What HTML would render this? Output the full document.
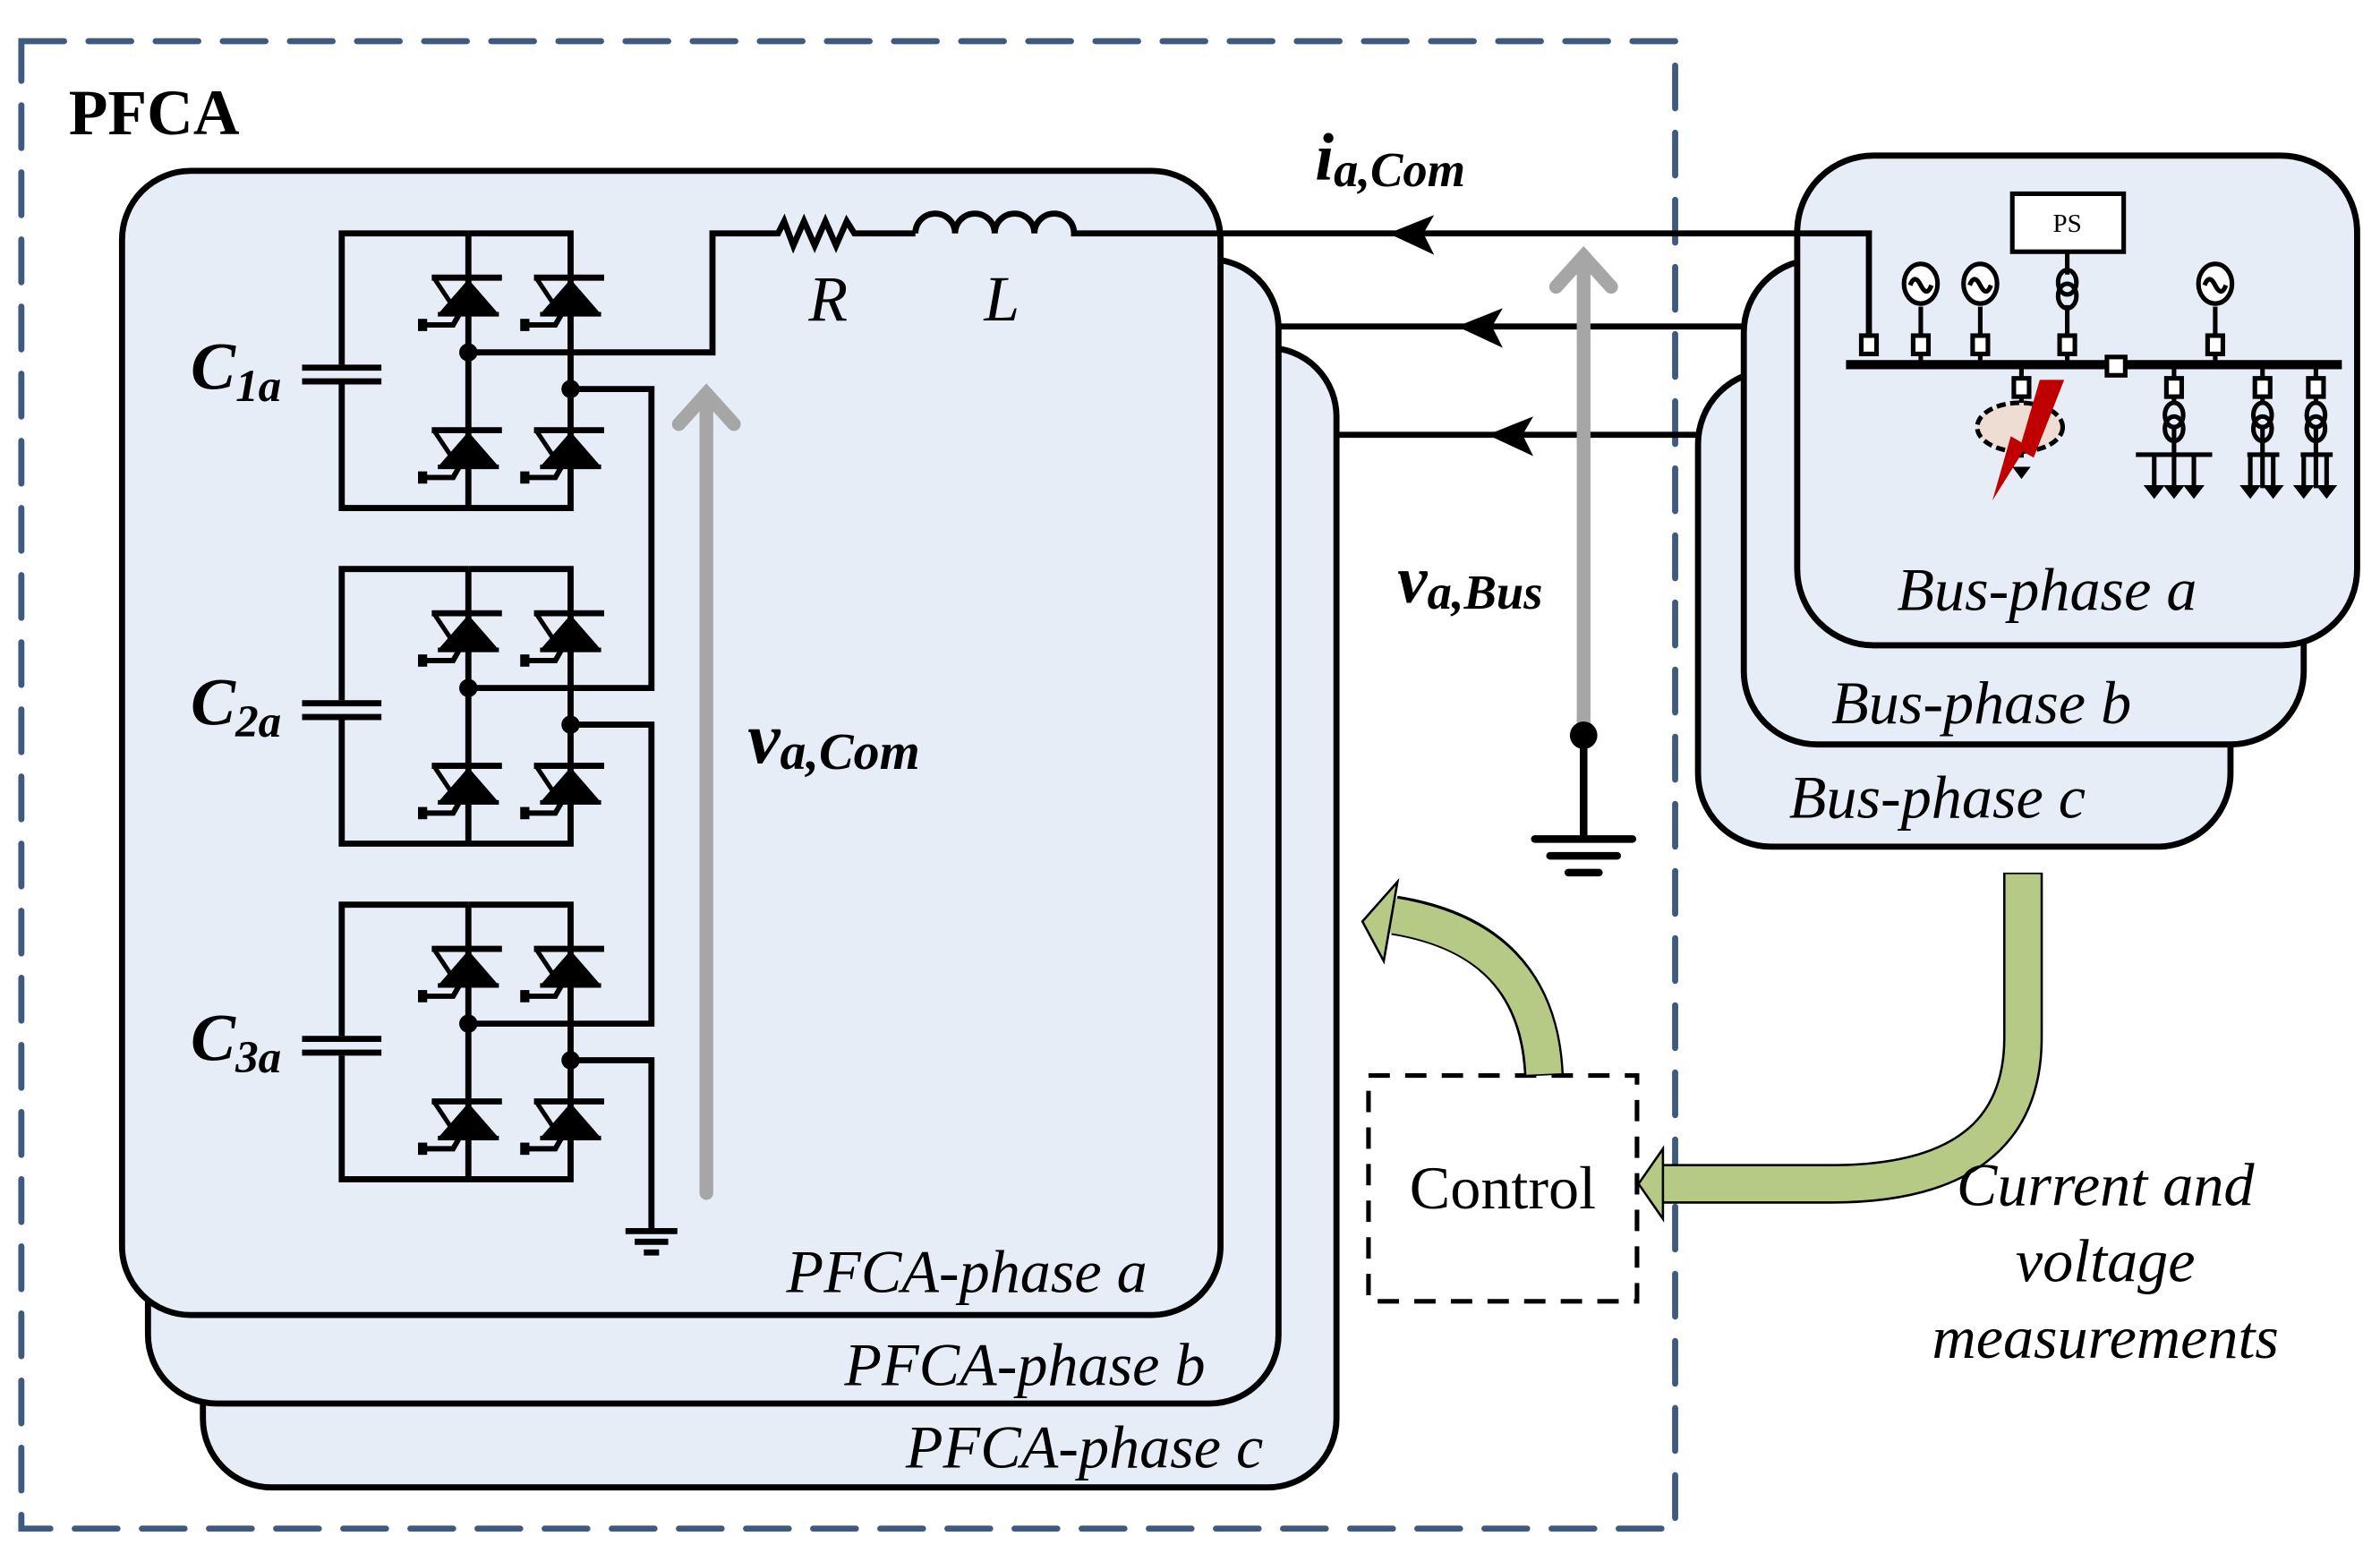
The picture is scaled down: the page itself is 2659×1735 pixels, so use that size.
<!DOCTYPE html>
<html><head><style>html,body{margin:0;padding:0;background:#fff}svg{display:block}text{font-family:"Liberation Serif",serif}</style></head>
<body>
<svg width="2659" height="1735" viewBox="0 0 1560 1018" preserveAspectRatio="none" xmlns="http://www.w3.org/2000/svg">
<defs>
<g id="thy">
 <line x1="-24" y1="0" x2="22" y2="0" stroke="#000" stroke-width="4"/>
 <polygon points="0,1 -20,24 20,24" fill="#000"/>
 <polyline points="-22,1 -8,22" fill="none" stroke="#000" stroke-width="3"/>
 <polyline points="-6,24 -10,31 -28,31" fill="none" stroke="#000" stroke-width="3.5"/>
 <rect x="-33" y="27" width="6" height="8" fill="#000"/>
 <line x1="-20" y1="24" x2="20" y2="24" stroke="#000" stroke-width="3"/>
</g>
<g id="bridge">
 <polyline points="307,153 224,153 224,239" fill="none" stroke="#000" stroke-width="4"/>
 <polyline points="224,252 224,333 374,333 374,153 307,153" fill="none" stroke="#000" stroke-width="4"/>
 <line x1="307" y1="153" x2="307" y2="333" stroke="#000" stroke-width="4"/>
 <line x1="198" y1="241" x2="250" y2="241" stroke="#000" stroke-width="4"/>
 <line x1="198" y1="250" x2="250" y2="250" stroke="#000" stroke-width="4"/>
 <use href="#thy" transform="translate(307,182)"/>
 <use href="#thy" transform="translate(374,182)"/>
 <use href="#thy" transform="translate(307,282)"/>
 <use href="#thy" transform="translate(374,282)"/>
 <circle cx="307" cy="231" r="6" fill="#000"/>
 <circle cx="374" cy="255" r="6" fill="#000"/>
</g>
</defs>
<rect width="1560" height="1018" fill="#fff"/>
<rect x="14" y="27" width="1084" height="975" fill="none" stroke="#3f5a7e" stroke-width="4" stroke-dasharray="28 16" stroke-linecap="round"/>
<text x="45" y="88" font-size="42" font-weight="bold">PFCA</text>
<rect x="133" y="228" width="743" height="747" rx="45" fill="#e6edf7" stroke="#000" stroke-width="4"/>
<rect x="97" y="170" width="741" height="750" rx="45" fill="#e6edf7" stroke="#000" stroke-width="4"/>
<rect x="80" y="112" width="720" height="750" rx="45" fill="#e6edf7" stroke="#000" stroke-width="4"/>
<text x="828" y="962" font-size="40" font-style="italic" text-anchor="end">PFCA-phase c</text>
<text x="790" y="908" font-size="40" font-style="italic" text-anchor="end">PFCA-phase b</text>
<text x="752" y="847" font-size="40" font-style="italic" text-anchor="end">PFCA-phase a</text>
<rect x="1113" y="243" width="349" height="312" rx="48" fill="#e6edf7" stroke="#000" stroke-width="4"/>
<rect x="1143" y="170" width="367" height="318" rx="48" fill="#e6edf7" stroke="#000" stroke-width="4"/>
<rect x="1178" y="102" width="367" height="321" rx="50" fill="#e6edf7" stroke="#000" stroke-width="4"/>
<text x="1367" y="536" font-size="40" font-style="italic" text-anchor="end">Bus-phase c</text>
<text x="1397" y="474" font-size="40" font-style="italic" text-anchor="end">Bus-phase b</text>
<text x="1440" y="400" font-size="40" font-style="italic" text-anchor="end">Bus-phase a</text>
<use href="#bridge"/>
<use href="#bridge" transform="translate(0,220)"/>
<use href="#bridge" transform="translate(0,440)"/>
<text x="125" y="255" font-size="44" font-style="italic" font-weight="bold">C<tspan font-size="30" dy="8">1a</tspan></text>
<text x="125" y="475" font-size="44" font-style="italic" font-weight="bold">C<tspan font-size="30" dy="8">2a</tspan></text>
<text x="125" y="695" font-size="44" font-style="italic" font-weight="bold">C<tspan font-size="30" dy="8">3a</tspan></text>
<g fill="none" stroke="#000" stroke-width="4">
 <polyline points="374,255 427,255 427,451 307,451"/>
 <polyline points="374,475 427,475 427,671 307,671"/>
 <polyline points="374,695 427,695 427,805"/>
 <line x1="410" y1="807" x2="444" y2="807"/><line x1="416" y1="814" x2="438" y2="814"/><line x1="422" y1="821" x2="432" y2="821"/>
 <polyline points="307,231 467,231 467,153 510,153 514,145 520,161 527,145 534,161 541,145 548,161 555,145 560,153 600,153"/>
 <path d="M600,153 a13,13 0 0 1 26,0 a13,13 0 0 1 26,0 a13,13 0 0 1 26,0 a13,13 0 0 1 26,0 L1225,153 L1225,225"/>
 <line x1="838" y1="214" x2="1143" y2="214"/>
 <line x1="876" y1="285" x2="1113" y2="285"/>
</g>
<text x="530" y="210" font-size="42" font-style="italic">R</text>
<text x="645" y="210" font-size="42" font-style="italic">L</text>
<polygon points="910,153 940,141 933,153 940,167" fill="#000"/>
<polygon points="955,214 985,202 978,214 985,228" fill="#000"/>
<polygon points="975,285 1005,273 998,285 1005,299" fill="#000"/>
<g stroke="#a6a6a6" stroke-width="9" fill="none" stroke-linecap="round">
 <line x1="463" y1="782" x2="463" y2="260"/><polyline points="445,278 463,258 481,278"/>
 <line x1="1038" y1="478" x2="1038" y2="170"/><polyline points="1020,188 1038,168 1056,188"/>
</g>
<text x="862" y="118" font-size="44" font-style="italic" font-weight="bold">i<tspan font-size="32" dy="4">a,Com</tspan></text>
<text x="916" y="395" font-size="44" font-style="italic" font-weight="bold">v<tspan font-size="32" dy="4">a,Bus</tspan></text>
<text x="490" y="500" font-size="48" font-style="italic" font-weight="bold">v<tspan font-size="34" dy="4">a,Com</tspan></text>
<circle cx="1038" cy="482" r="9" fill="#000"/>
<g stroke="#000" stroke-width="5" stroke-linecap="round">
 <line x1="1038" y1="482" x2="1038" y2="548"/>
 <line x1="1006" y1="550" x2="1070" y2="550"/><line x1="1016" y1="561" x2="1060" y2="561"/><line x1="1028" y1="572" x2="1048" y2="572"/>
</g>
<g stroke="#000" stroke-width="3" fill="none">
 <line x1="1210" y1="239" x2="1535" y2="239" stroke-width="6"/>
 <rect x="1319" y="127" width="73" height="38" fill="#fff"/>
 <line x1="1355" y1="165" x2="1355" y2="180"/>
 <line x1="1259" y1="201" x2="1259" y2="239"/><line x1="1298" y1="201" x2="1298" y2="239"/><line x1="1355" y1="200" x2="1355" y2="239"/><line x1="1452" y1="201" x2="1452" y2="239"/>
 <ellipse cx="1259" cy="186" rx="11" ry="13" fill="#fff"/><ellipse cx="1298" cy="186" rx="11" ry="13" fill="#fff"/><ellipse cx="1452" cy="186" rx="11" ry="13" fill="#fff"/>
 <path d="M1252,187 q3,-8 7,0 t7,0"/><path d="M1291,187 q3,-8 7,0 t7,0"/><path d="M1445,187 q3,-8 7,0 t7,0"/>
 <ellipse cx="1355" cy="185" rx="6" ry="8"/><ellipse cx="1355" cy="194" rx="6" ry="8"/>
 <rect x="1220" y="220" width="10" height="12" fill="#fff"/><rect x="1254" y="220" width="10" height="12" fill="#fff"/><rect x="1293" y="220" width="10" height="12" fill="#fff"/><rect x="1350" y="220" width="10" height="12" fill="#fff"/><rect x="1447" y="220" width="10" height="12" fill="#fff"/>
 <rect x="1381" y="234" width="12" height="12" fill="#fff"/>
 <line x1="1325" y1="239" x2="1325" y2="300"/>
 <rect x="1320" y="248" width="10" height="12" fill="#fff"/>
 <ellipse cx="1324" cy="280" rx="28" ry="16" fill="#eeddd3" stroke-dasharray="6 3"/>
 <line x1="1425" y1="239" x2="1425" y2="320"/><line x1="1483" y1="239" x2="1483" y2="320"/><line x1="1518" y1="239" x2="1518" y2="320"/>
 <rect x="1420" y="248" width="10" height="12" fill="#fff"/><rect x="1478" y="248" width="10" height="12" fill="#fff"/><rect x="1513" y="248" width="10" height="12" fill="#fff"/>
 <ellipse cx="1425" cy="272" rx="6" ry="8" fill="#e6edf7"/><ellipse cx="1425" cy="281" rx="6" ry="8"/>
 <ellipse cx="1483" cy="272" rx="6" ry="8" fill="#e6edf7"/><ellipse cx="1483" cy="281" rx="6" ry="8"/>
 <ellipse cx="1518" cy="272" rx="6" ry="8" fill="#e6edf7"/><ellipse cx="1518" cy="281" rx="6" ry="8"/>
 <line x1="1400" y1="298" x2="1450" y2="298"/><line x1="1473" y1="298" x2="1494" y2="298"/><line x1="1508" y1="298" x2="1529" y2="298"/>
 <line x1="1412" y1="298" x2="1412" y2="320"/><line x1="1438" y1="298" x2="1438" y2="320"/><line x1="1475" y1="298" x2="1475" y2="320"/><line x1="1490" y1="298" x2="1490" y2="320"/><line x1="1510" y1="298" x2="1510" y2="320"/><line x1="1525" y1="298" x2="1525" y2="320"/>
</g>
<g fill="#000">
 <polygon points="1319,306 1331,306 1325,314"/>
 <polygon points="1405,318 1419,318 1412,327"/><polygon points="1418,318 1432,318 1425,327"/><polygon points="1431,318 1445,318 1438,327"/>
 <polygon points="1468,318 1482,318 1475,327"/><polygon points="1483,318 1497,318 1490,327"/>
 <polygon points="1503,318 1517,318 1510,327"/><polygon points="1518,318 1532,318 1525,327"/>
</g>
<polygon points="1353,249 1333,300 1326,296 1306,328 1318,286 1325,290 1337,249" fill="#c00000"/>
<text x="1355" y="152" font-size="17" text-anchor="middle">PS</text>
<rect x="897" y="705" width="176" height="148" fill="none" stroke="#000" stroke-width="3" stroke-dasharray="14 10"/>
<text x="985" y="792" font-size="40" text-anchor="middle">Control</text>
<path d="M1326,572 L1326,680 Q1326,776 1200,776 L1090,776" fill="none" stroke="#000" stroke-width="26"/>
<path d="M1326,573 L1326,680 Q1326,776 1200,776 L1088,776" fill="none" stroke="#b6ca86" stroke-width="23"/>
<polygon points="1074,776 1090,753 1090,799" fill="#b6ca86" stroke="#000" stroke-width="1.5"/>
<path d="M1012,705 Q1008,615 914,600" fill="none" stroke="#000" stroke-width="26"/>
<path d="M1012,704 Q1008,615 912,600" fill="none" stroke="#b6ca86" stroke-width="23"/>
<polygon points="893,604 916,578 907,630" fill="#b6ca86" stroke="#000" stroke-width="1.5"/>
<text x="1380" y="790" font-size="40" font-style="italic" text-anchor="middle">Current and</text>
<text x="1380" y="840" font-size="40" font-style="italic" text-anchor="middle">voltage</text>
<text x="1380" y="890" font-size="40" font-style="italic" text-anchor="middle">measurements</text>
</svg>
</body></html>
